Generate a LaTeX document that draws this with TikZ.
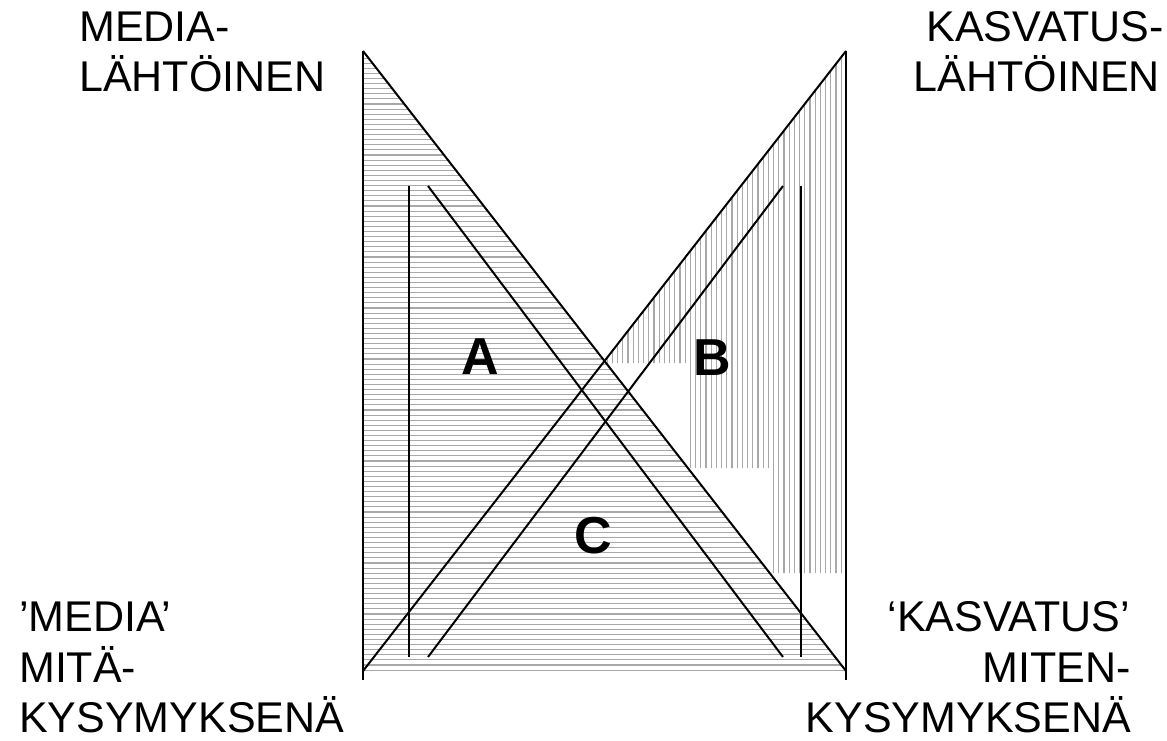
\documentclass[tikz,border=0pt]{standalone}
\usepackage{fontspec}
\setmainfont{Liberation Sans}
\definecolor{hatchgray}{gray}{0.66}
\tikzset{
  edge/.style={line width=2pt, black},
  hatchline/.style={line width=1.1pt, hatchgray},
  lbl/.style={inner sep=0pt, font=\fontsize{43}{50}\selectfont},
  big/.style={inner sep=0pt, font=\fontsize{52}{60}\selectfont\bfseries},
}
\begin{document}
\begin{tikzpicture}[x=1pt,y=-1pt]
\useasboundingbox (0,0) rectangle (1167,741);
% corner coordinates
\coordinate (LT) at (363,51);
\coordinate (LB) at (363,671);
\coordinate (RT) at (846,51);
\coordinate (RB) at (846,671);
\coordinate (LE) at (363,680);
\coordinate (RE) at (846,680);
% horizontal hatch of the left triangle
\begin{scope}
  \clip (LT) -- (RB) -- (LB) -- cycle;
  \foreach \y in {53,58.1,...,672} {\draw[hatchline] (363,\y) -- (846,\y);}
\end{scope}
% vertical hatch of the right triangle (stepped)
\begin{scope}
  \clip (RT) -- (603,363) -- (690,363) -- (690,468) -- (770,468) -- (770,573) -- (846,573) -- cycle;
  \foreach \x in {602,607.2,...,847} {\draw[hatchline] (\x,51) -- (\x,671);}
\end{scope}
% outer lines
\draw[edge] (LT) -- (LE);
\draw[edge] (RT) -- (RE);
\draw[edge] (LT) -- (RB);
\draw[edge] (RT) -- (LB);
% inner lines
\coordinate (ia) at (409,186); \coordinate (ib) at (409,657);
\coordinate (ic) at (801,186); \coordinate (id) at (801,657);
\coordinate (ie) at (428,186); \coordinate (if) at (783,657);
\coordinate (ig) at (783,186); \coordinate (ih) at (428,657);
\draw[edge] (ia) -- (ib);
\draw[edge] (ic) -- (id);
\draw[edge] (ie) -- (if);
\draw[edge] (ig) -- (ih);
% letters
\node[big] (A) at (480,357) {A};
\node[big] (B) at (712,358) {B};
\node[big] (C) at (593,536) {C};
% labels
\node[lbl, anchor=base west] (tl1) at (79,42) {MEDIA-};
\node[lbl, anchor=base west] (tl2) at (79,92) {LÄHTÖINEN};
\node[lbl, anchor=base east] (tr1) at (1164,42) {KASVATUS-};
\node[lbl, anchor=base east] (tr2) at (1160,92) {LÄHTÖINEN};
\node[lbl, anchor=base west] (bl1) at (19,631) {’MEDIA’};
\node[lbl, anchor=base west] (bl2) at (19,682) {MITÄ-};
\node[lbl, anchor=base west] (bl3) at (19,732) {KYSYMYKSENÄ};
\node[lbl, anchor=base east] (br1) at (1130,631) {‘KASVATUS’};
\node[lbl, anchor=base east] (br2) at (1131,682) {MITEN-};
\node[lbl, anchor=base east] (br3) at (1131,732) {KYSYMYKSENÄ};
\end{tikzpicture}
\end{document}
